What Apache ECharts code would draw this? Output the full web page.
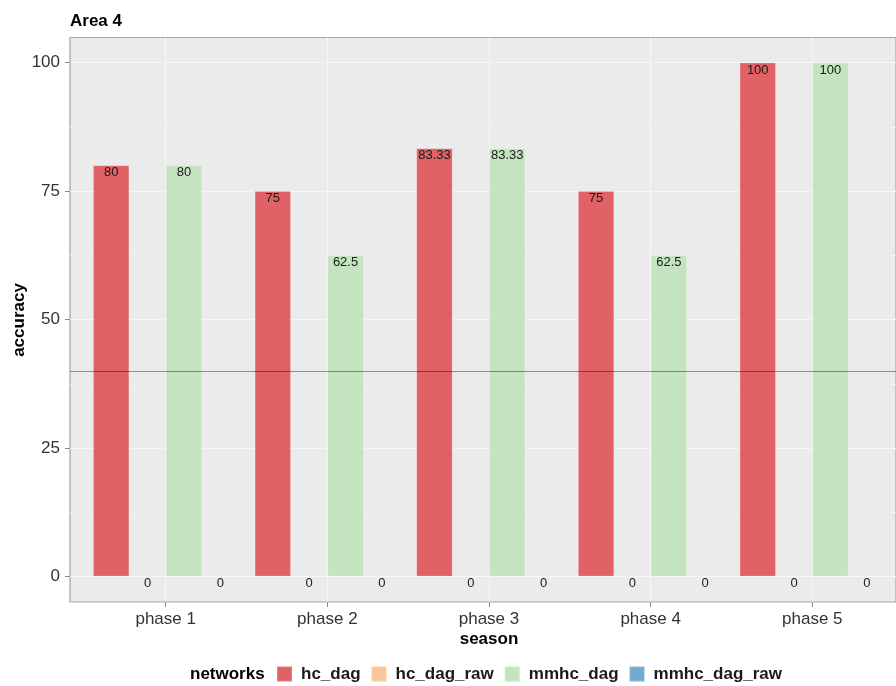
<!DOCTYPE html>
<html>
<head>
<meta charset="utf-8">
<script src="https://cdn.jsdelivr.net/npm/echarts@6/dist/echarts.min.js"></script>
<style>
  html, body { margin: 0; padding: 0; background: #ffffff; }
  #chart { width: 896px; height: 686px; }
</style>
</head>
<body>
<div id="chart"></div>
<script>
// Accuracy per season phase for each network variant
const phases = ['phase 1', 'phase 2', 'phase 3', 'phase 4', 'phase 5'];
const hcDag = [80, 75, 83.33, 75, 100];
const hcDagRaw = [0, 0, 0, 0, 0];
const mmhcDag = [80, 62.5, 83.33, 62.5, 100];
const mmhcDagRaw = [0, 0, 0, 0, 0];
const seriesNames = ['hc_dag', 'hc_dag_raw', 'mmhc_dag', 'mmhc_dag_raw'];
const seriesColors = ['#E06166', '#F8C697', '#C4E3BF', '#74A9CF'];
const referenceLevel = 40;

const FONT = '"Liberation Sans", Arial, sans-serif';
const GRID_LINE = '#F6F6F6';
const TICK_COLOR = '#8a8a8a';

const chart = echarts.init(document.getElementById('chart'), null, { renderer: 'canvas' });

function barSeries(name, values, color) {
  return {
    name: name,
    type: 'bar',
    xAxisIndex: 3,
    yAxisIndex: 3,
    data: values,
    barGap: '0%',
    barCategoryGap: '10%',
    itemStyle: { color: color, borderColor: 'rgba(255,255,255,0.18)', borderWidth: 1 },
    label: {
      show: true,
      position: 'insideTop',
      distance: 1,
      fontFamily: FONT,
      fontSize: 13,
      color: '#1a1a1a'
    }
  };
}

const option = {
  backgroundColor: '#ffffff',
  animation: false,
  grid: [
    // panel background and border
    { left: 70, top: 37.5, width: 840, height: 564.5, show: true,
      backgroundColor: '#EBEBEB', borderColor: '#A6A6A6', borderWidth: 1.2 },
    // horizontal grid lines, y ticks
    { left: 70, top: 62.5, width: 840, height: 514 },
    // vertical grid lines, x ticks
    { left: 165.7, top: 37.5, width: 646.6, height: 564.5 },
    // bars
    { left: 84.9, top: 62.5, width: 808.2, height: 514 }
  ],
  xAxis: [
    { gridIndex: 0, type: 'value', min: 0, max: 1, show: false },
    { gridIndex: 1, type: 'value', min: 0, max: 1, show: false },
    {
      gridIndex: 2, type: 'category', data: phases, boundaryGap: false,
      axisLine: { show: false },
      axisTick: { show: true, length: 5, lineStyle: { color: TICK_COLOR, width: 1 } },
      axisLabel: { margin: 9, fontFamily: FONT, fontSize: 17, color: '#333333' },
      splitLine: { show: true, lineStyle: { color: GRID_LINE, width: 1 } }
    },
    { gridIndex: 3, type: 'category', data: phases, show: false }
  ],
  yAxis: [
    { gridIndex: 0, type: 'value', min: 0, max: 1, show: false },
    {
      gridIndex: 1, type: 'value', min: 0, max: 100, interval: 25,
      axisLine: { show: false },
      axisTick: { show: true, length: 5, lineStyle: { color: TICK_COLOR, width: 1 } },
      axisLabel: { margin: 10, fontFamily: FONT, fontSize: 17, color: '#333333' },
      splitLine: { show: true, lineStyle: { color: GRID_LINE, width: 1 } },
      minorTick: { show: false, splitNumber: 2 },
      minorSplitLine: { show: true, lineStyle: { color: '#F1F1F1', width: 0.8 } }
    },
    { gridIndex: 2, type: 'value', min: 0, max: 1, show: false },
    { gridIndex: 3, type: 'value', min: 0, max: 100, show: false }
  ],
  legend: {
    data: seriesNames,
    left: 276,
    top: 665.5,
    padding: 0,
    icon: 'rect',
    itemWidth: 15,
    itemHeight: 15,
    itemGap: 10,
    selectedMode: false,
    textStyle: { fontFamily: FONT, fontSize: 17, fontWeight: 'bold', color: '#1a1a1a', padding: [0, 0, 0, 4] }
  },
  graphic: [
    { type: 'text', left: 70, top: 13, style: { text: 'Area 4', font: 'bold 17px ' + FONT, fill: '#000' } },
    { type: 'text', x: 19, y: 320, rotation: Math.PI / 2,
      style: { text: 'accuracy', font: 'bold 17px ' + FONT, fill: '#000', align: 'center', verticalAlign: 'middle' } },
    { type: 'text', x: 489, y: 639,
      style: { text: 'season', font: 'bold 17px ' + FONT, fill: '#000', align: 'center', verticalAlign: 'middle' } },
    { type: 'text', x: 190, y: 674,
      style: { text: 'networks', font: 'bold 17px ' + FONT, fill: '#000', align: 'left', verticalAlign: 'middle' } }
  ],
  series: [
    barSeries(seriesNames[0], hcDag, seriesColors[0]),
    barSeries(seriesNames[1], hcDagRaw, seriesColors[1]),
    barSeries(seriesNames[2], mmhcDag, seriesColors[2]),
    barSeries(seriesNames[3], mmhcDagRaw, seriesColors[3]),
    {
      name: 'reference',
      type: 'line',
      xAxisIndex: 1,
      yAxisIndex: 1,
      data: [],
      z: 5,
      markLine: {
        silent: true,
        symbol: 'none',
        label: { show: false },
        lineStyle: { color: 'rgba(0,0,0,0.4)', width: 1, type: 'solid' },
        data: [{ yAxis: referenceLevel }]
      }
    }
  ]
};

chart.setOption(option);
</script>
</body>
</html>
